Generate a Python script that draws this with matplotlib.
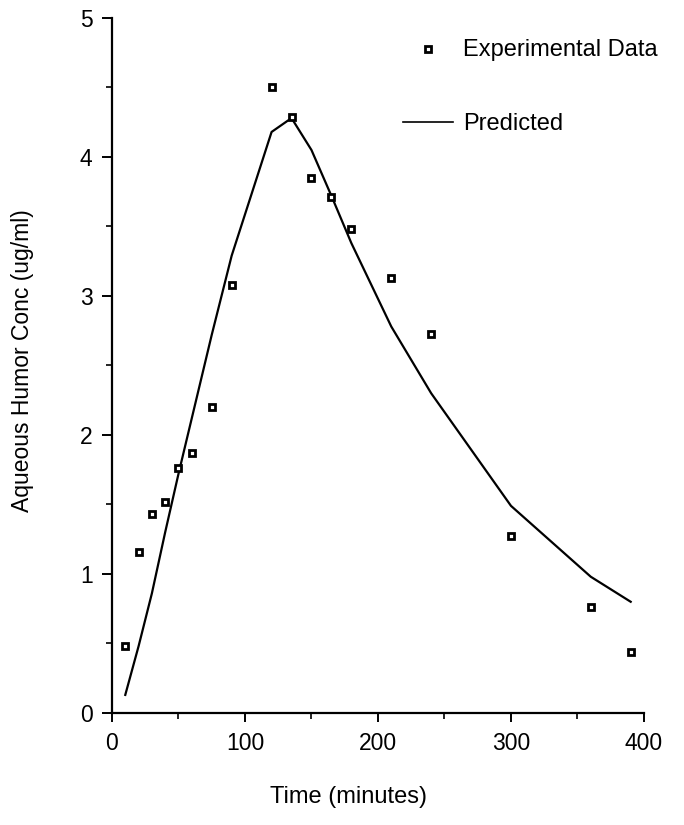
import numpy as np
import matplotlib.pyplot as plt
from matplotlib.lines import Line2D
from matplotlib.ticker import MultipleLocator

plt.rcParams['font.family'] = ['Liberation Sans', 'DejaVu Sans']

# experimental data (minutes, ug/ml)
exp_time = [10, 20, 30, 40, 50, 60, 75, 90, 120, 135, 150, 165, 180, 210, 240, 300, 360, 390]
exp_conc = [0.48, 1.16, 1.43, 1.52, 1.76, 1.87, 2.20, 3.08, 4.50, 4.29, 3.85, 3.71,
            3.48, 3.13, 2.73, 1.27, 0.76, 0.44]

# model prediction
pred_time = [10, 20, 30, 40, 50, 60, 75, 90, 120, 135, 150, 165, 180, 210, 240, 300, 360, 390]
pred_conc = [0.13, 0.48, 0.86, 1.30, 1.72, 2.12, 2.72, 3.29, 4.18, 4.28, 4.05, 3.72,
             3.38, 2.78, 2.30, 1.49, 0.98, 0.80]

fig = plt.figure(figsize=(6.84, 8.25), dpi=100)
ax = fig.add_axes([0.1637, 0.1358, 0.7778, 0.8424])

ax.plot(pred_time, pred_conc, color='black', lw=1.6, zorder=2)
ax.plot(exp_time, exp_conc, linestyle='none', marker='s', ms=5,
        mfc='white', mec='black', mew=2, zorder=3)

ax.set_xlim(0, 400)
ax.set_ylim(0, 5)
ax.xaxis.set_major_locator(MultipleLocator(100))
ax.xaxis.set_minor_locator(MultipleLocator(50))
ax.yaxis.set_major_locator(MultipleLocator(1))
ax.yaxis.set_minor_locator(MultipleLocator(0.5))

for s in ['top', 'right']:
    ax.spines[s].set_visible(False)
for s in ['left', 'bottom']:
    ax.spines[s].set_linewidth(1.6)

ax.tick_params(axis='x', which='major', direction='out', length=6.5, width=1.4,
               labelsize=16.5, pad=7)
ax.tick_params(axis='x', which='minor', direction='out', length=4, width=1.2)
ax.tick_params(axis='y', which='major', direction='out', length=7, width=1.4,
               labelsize=16.5, pad=7)
ax.tick_params(axis='y', which='minor', direction='out', length=4.3, width=1.2)

fig.text(349 / 684, 1 - 797 / 825, 'Time (minutes)', ha='center', va='center', fontsize=17)
fig.text(23 / 684, 1 - 361 / 825, 'Aqueous Humor Conc (ug/ml)', ha='center', va='center',
         rotation=90, fontsize=16.5)

# legend drawn by hand, like the original
fig.add_artist(Line2D([428 / 684], [1 - 49 / 825], marker='s', ms=5, mfc='white',
                      mec='black', mew=2, transform=fig.transFigure))
fig.text(463 / 684, 1 - 50 / 825, 'Experimental Data', ha='left', va='center', fontsize=17)
fig.add_artist(Line2D([403 / 684, 453 / 684], [1 - 122 / 825, 1 - 122 / 825],
                      color='black', lw=1.2, transform=fig.transFigure))
fig.text(463 / 684, 1 - 124 / 825, 'Predicted', ha='left', va='center', fontsize=17)

fig.savefig('out.png', dpi=100)
